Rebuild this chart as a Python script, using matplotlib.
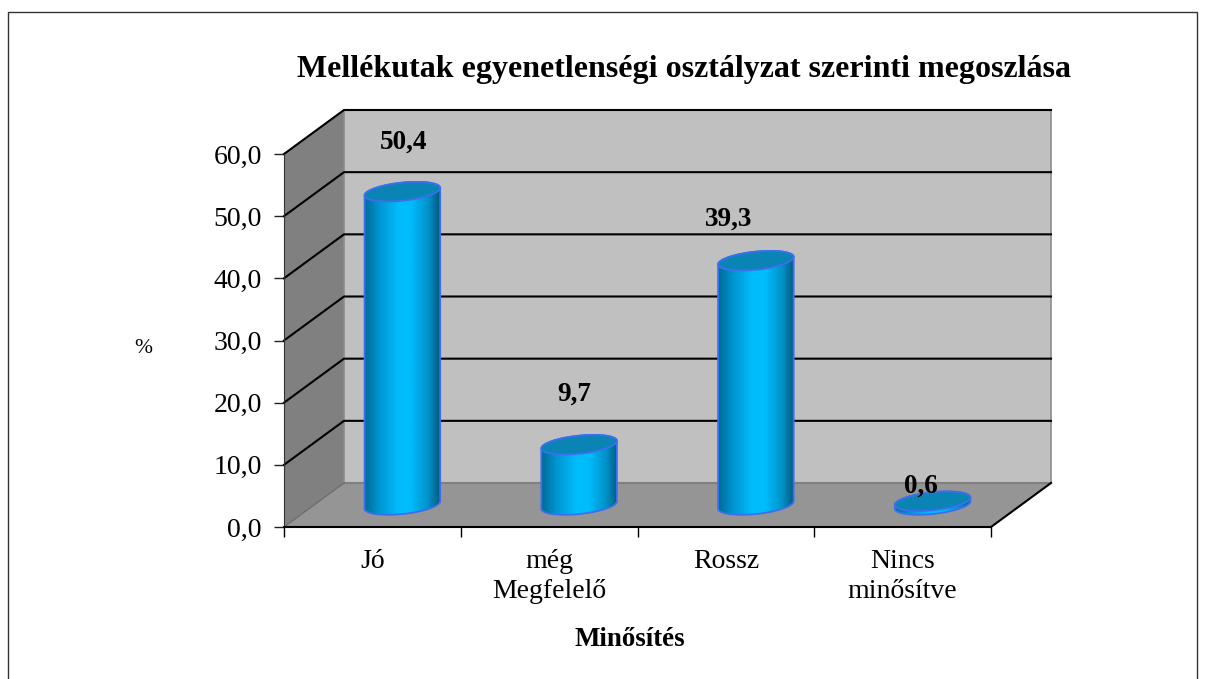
import numpy as np
import matplotlib
matplotlib.use('Agg')
import matplotlib.pyplot as plt
from matplotlib.colors import LinearSegmentedColormap
from matplotlib.patches import Polygon, Rectangle
from matplotlib.ticker import FixedLocator, NullFormatter

plt.rcParams['font.family'] = ['Liberation Serif', 'DejaVu Serif']

categories = ['Jó', 'még\nMegfelelő', 'Rossz', 'Nincs\nminősítve']
values = [50.4, 9.7, 39.3, 0.6]
y_ticks = [0, 10, 20, 30, 40, 50, 60]
title = 'Mellékutak egyenetlenségi osztályzat szerinti megoszlása'

# label placement relative to the top of each cylinder, in pixels
label_dx = [1, -5, -27, -12]
label_dy = [50, 51, 42, 15]

W, H = 1207, 679
fig = plt.figure(figsize=(W / 100, H / 100), dpi=100, facecolor='white')
fig.add_artist(Rectangle((8 / W, -0.01), (1197 - 8) / W, 1 - 12 / H + 0.01, transform=fig.transFigure,
                         fill=False, ec='#333333', lw=1))

L, R, T, B = 284, 991, 154, 527
ax = fig.add_axes([L / W, 1 - B / H, (R - L) / W, (B - T) / H])
ax.patch.set_alpha(0)
n = len(categories)
sx = (R - L) / n
sy = (B - T) / 60
DX, DY = 60 / sx, 44 / sy   # depth of the 3-D box in data units


def poly(pts, **kw):
    ax.add_patch(Polygon(pts, closed=True, clip_on=False, **kw))


poly([(0, 0), (DX, DY), (DX, 60 + DY), (0, 60)], fc='#808080', ec='none', zorder=1)
poly([(DX, DY), (n + DX, DY), (n + DX, 60 + DY), (DX, 60 + DY)], fc='#c0c0c0', ec='#8c8c8c', lw=1.2, zorder=1)
poly([(0, 0), (n, 0), (n + DX, DY), (DX, DY)], fc='#959595', ec='none', zorder=1.5)
ax.plot([DX, n + DX], [DY, DY], color='#808080', lw=1.5, zorder=1.6, clip_on=False)
ax.plot([0, DX], [0, DY], color='#6e6e6e', lw=1, zorder=1.6, clip_on=False)
ax.plot([n, n + DX], [0, DY], color='black', lw=1.5, zorder=1.6, clip_on=False)
for v in y_ticks[1:]:
    ax.plot([0, DX, n + DX], [v, v + DY, v + DY], color='black', lw=1.5, zorder=2, clip_on=False)

cmap = LinearSegmentedColormap.from_list(
    'cyl', [(0, '#006a96'), (0.2, '#0095d0'), (0.45, '#00bcfb'), (0.62, '#00bcfb'), (0.85, '#0090c8'), (1, '#005a80')])
grad = np.linspace(0, 1, 256).reshape(1, -1)
A, ROT = 38 / sx, np.deg2rad(6)


def ellipse(cx, cy):
    t = np.linspace(0, 2 * np.pi, 121)
    px = 38 * np.cos(t) * np.cos(ROT) - 9 * np.sin(t) * np.sin(ROT)
    py = 38 * np.cos(t) * np.sin(ROT) + 9 * np.sin(t) * np.cos(ROT)
    return np.column_stack([cx + px / sx, cy + py / sy])


for i, v in enumerate(values):
    cx, base = i + 0.5 + DX / 2, DY / 2
    top = base + v
    eb, et = ellipse(cx, base), ellipse(cx, top)
    hull = np.vstack([eb[60:121], et[:61]])
    body = Polygon(hull, closed=True, fc='none', ec='#3c6ff0', lw=1.3, clip_on=False, zorder=3.2)
    ax.add_patch(body)
    im = ax.imshow(grad, extent=(cx - A, cx + A, base - 3, top + 3), cmap=cmap, aspect='auto', zorder=3)
    im.set_clip_path(body)
    ax.add_patch(Polygon(et, closed=True, fc='#0a84b4', ec='#3c6ff0', lw=1.3, clip_on=False, zorder=3.4))
    ax.annotate(f'{v:.1f}'.replace('.', ','), (cx, top),
                xytext=(label_dx[i] * 0.72, label_dy[i] * 0.72), textcoords='offset points',
                ha='center', va='center', fontsize=19.5, fontweight='bold', color='black',
                zorder=5, annotation_clip=False)

ax.set_xlim(0, n)
ax.set_ylim(0, 60)
ax.set_yticks(y_ticks)
ax.set_yticklabels([f'{v:.1f}'.replace('.', ',') for v in y_ticks], fontsize=20)
ax.xaxis.set_major_locator(FixedLocator(range(n + 1)))
ax.xaxis.set_major_formatter(NullFormatter())
ax.xaxis.set_minor_locator(FixedLocator([i + 0.5 for i in range(n)]))
ax.set_xticklabels(categories, minor=True, fontsize=20, linespacing=1.25)
ax.tick_params(axis='x', which='minor', length=0, pad=16)
ax.tick_params(axis='x', which='major', length=7, width=1, color='black')
ax.tick_params(axis='y', length=7, width=1, color='#222222', pad=9)
for s in ('top', 'right'):
    ax.spines[s].set_visible(False)
ax.spines['left'].set_color('#333333')
ax.spines['left'].set_zorder(6)
ax.spines['bottom'].set_linewidth(1.5)
ax.spines['bottom'].set_zorder(6)

fig.text(684 / W, 1 - 70 / H, title, ha='center', va='center', fontsize=23, fontweight='bold')
fig.text(630 / W, 1 - 640 / H, 'Minősítés', ha='center', va='center', fontsize=19.4, fontweight='bold')
fig.text(143 / W, 1 - 349 / H, '%', ha='center', va='center', fontsize=15.5)

fig.savefig('out.png', dpi=100, facecolor='white')
